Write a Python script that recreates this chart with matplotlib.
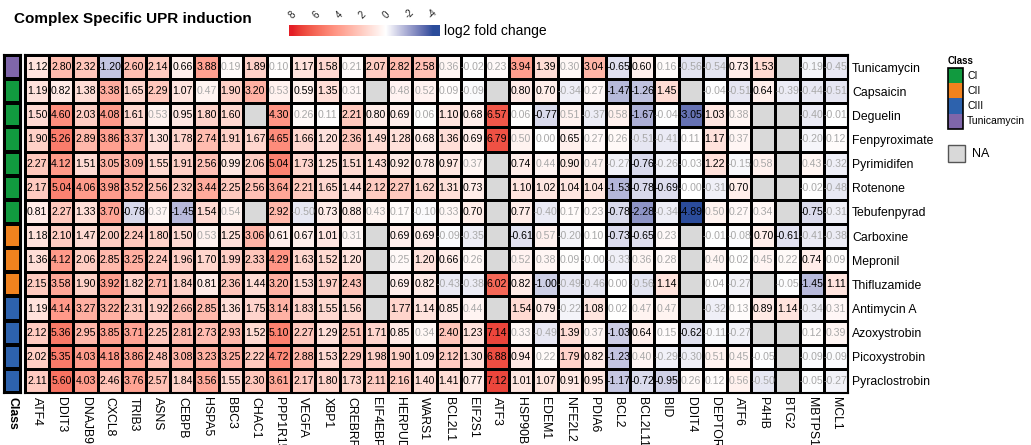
import numpy as np
import matplotlib
matplotlib.use('Agg')
import matplotlib.pyplot as plt
from matplotlib.colors import ListedColormap, Normalize
from matplotlib.patches import Rectangle

plt.rcParams['font.family'] = ['Liberation Sans', 'DejaVu Sans']

NA = np.nan

genes = ['ATF4', 'DDIT3', 'DNAJB9', 'CXCL8', 'TRIB3', 'ASNS', 'CEBPB', 'HSPA5',
         'BBC3', 'CHAC1', 'PPP1R15A', 'VEGFA', 'XBP1', 'CREBRF', 'EIF4EBP1',
         'HERPUD1', 'WARS1', 'BCL2L1', 'EIF2S1', 'ATF3', 'HSP90B1', 'EDEM1',
         'NFE2L2', 'PDIA6', 'BCL2', 'BCL2L11', 'BID', 'DDIT4', 'DEPTOR', 'ATF6',
         'P4HB', 'BTG2', 'MBTPS1', 'MCL1']

compounds = ['Tunicamycin', 'Capsaicin', 'Deguelin', 'Fenpyroximate', 'Pyrimidifen',
             'Rotenone', 'Tebufenpyrad', 'Carboxine', 'Mepronil', 'Thifluzamide',
             'Antimycin A', 'Azoxystrobin', 'Picoxystrobin', 'Pyraclostrobin']

compound_class = ['Tunicamycin', 'CI', 'CI', 'CI', 'CI', 'CI', 'CI',
                  'CII', 'CII', 'CII', 'CIII', 'CIII', 'CIII', 'CIII']

class_names = ['CI', 'CII', 'CIII', 'Tunicamycin']
class_colors = ['#119A3F', '#F0821E', '#2D62AD', '#7F66AA']

tunicamycin = [1.12, 2.80, 2.32, -1.20, 2.60, 2.14, 0.66, 3.88, 0.19, 1.89, 0.10, 1.17, 1.58, 0.21, 2.07, 2.82, 2.58, 0.36, -0.02, 0.23, 3.94, 1.39, 0.30, 3.04, -0.65, 0.60, 0.16, -0.56, -0.54, 0.73, 1.53, NA, -0.19, -0.45]
capsaicin = [1.19, 0.82, 1.38, 3.38, 1.65, 2.29, 1.07, 0.47, 1.90, 3.20, 0.53, 0.59, 1.35, 0.31, NA, 0.48, 0.52, 0.09, -0.09, NA, 0.80, 0.70, -0.34, 0.27, -1.47, -1.26, 1.45, NA, -0.04, -0.51, 0.64, -0.39, -0.44, -0.51]
deguelin = [1.50, 4.60, 2.03, 4.08, 1.61, 0.53, 0.95, 1.80, 1.60, NA, 4.30, 0.26, 0.11, 2.21, 0.80, 0.69, 0.06, 1.10, 0.68, 6.57, 0.06, -0.77, 0.51, -0.37, 0.58, -1.67, -0.04, -3.05, 1.03, 0.38, NA, NA, -0.40, -0.01]
fenpyroximate = [1.90, 5.26, 2.89, 3.86, 3.37, 1.30, 1.78, 2.74, 1.91, 1.67, 4.65, 1.66, 1.20, 2.36, 1.49, 1.28, 0.68, 1.36, 0.69, 6.79, 0.50, 0.00, 0.65, 0.27, 0.26, -0.51, -0.41, 0.11, 1.17, 0.37, NA, NA, -0.20, 0.12]
pyrimidifen = [2.27, 4.12, 1.51, 3.05, 3.09, 1.55, 1.91, 2.56, 0.99, 2.06, 5.04, 1.73, 1.25, 1.51, 1.43, 0.92, 0.78, 0.97, 0.37, NA, 0.74, 0.44, 0.90, 0.47, -0.27, -0.76, -0.26, -0.03, 1.22, -0.15, 0.58, NA, 0.43, -0.32]
rotenone = [2.17, 5.04, 4.06, 3.98, 3.52, 2.56, 2.32, 3.44, 2.25, 2.56, 3.64, 2.21, 1.65, 1.44, 2.12, 2.27, 1.62, 1.31, 0.73, NA, 1.10, 1.02, 1.04, 1.04, -1.53, -0.78, -0.69, -0.00, -0.31, 0.70, NA, NA, -0.02, -0.48]
tebufenpyrad = [0.81, 2.27, 1.33, 3.70, -0.78, 0.37, -1.45, 1.54, 0.54, NA, 2.92, -0.50, 0.73, 0.88, 0.43, 0.17, -0.10, 0.33, 0.70, NA, 0.77, -0.40, 0.17, 0.23, -0.78, -2.28, -0.34, -4.89, 0.50, 0.27, 0.34, NA, -0.75, -0.31]
carboxine = [1.18, 2.10, 1.47, 2.00, 2.24, 1.80, 1.50, 0.53, 1.25, 3.06, 0.61, 0.67, 1.01, 0.31, NA, 0.69, 0.69, -0.09, -0.35, NA, -0.61, 0.57, -0.20, 0.10, -0.73, -0.65, 0.23, NA, -0.01, -0.08, 0.70, -0.61, -0.41, -0.38]
mepronil = [1.36, 4.12, 2.06, 2.85, 3.25, 2.24, 1.96, 1.70, 1.99, 2.33, 4.29, 1.63, 1.52, 1.20, NA, 0.25, 1.20, 0.66, 0.26, NA, 0.52, 0.38, 0.09, -0.00, -0.33, 0.36, 0.28, NA, 0.40, 0.02, 0.45, 0.22, 0.74, 0.09]
thifluzamide = [2.15, 3.58, 1.90, 3.92, 1.82, 2.71, 1.84, 0.81, 2.36, 1.44, 3.20, 1.53, 1.97, 2.43, NA, 0.69, 0.82, -0.43, -0.38, 6.02, 0.82, -1.00, -0.49, -0.46, 0.00, -0.56, 1.14, NA, 0.04, -0.27, NA, -0.05, -1.45, 1.11]
antimycin_a = [1.19, 4.14, 3.27, 3.22, 2.31, 1.92, 2.66, 2.85, 1.36, 1.75, 3.14, 1.83, 1.55, 1.56, NA, 1.77, 1.14, 0.85, 0.44, NA, 1.54, 0.79, -0.22, 1.08, 0.02, 0.47, 0.47, NA, -0.32, 0.13, 0.89, 1.14, -0.34, 0.31]
azoxystrobin = [2.12, 5.36, 2.95, 3.85, 3.71, 2.25, 2.81, 2.73, 2.93, 1.52, 5.10, 2.27, 1.29, 2.51, 1.71, 0.85, 0.34, 2.40, 1.23, 7.14, 0.33, -0.49, 1.39, 0.37, -1.03, 0.64, 0.15, -0.62, -0.11, -0.27, NA, NA, 0.12, 0.39]
picoxystrobin = [2.02, 5.35, 4.03, 4.18, 3.86, 2.48, 3.08, 3.23, 3.25, 2.22, 4.72, 2.88, 1.53, 2.29, 1.98, 1.90, 1.09, 2.12, 1.30, 6.88, 0.94, 0.22, 1.79, 0.82, -1.23, 0.40, -0.29, -0.30, 0.51, 0.45, -0.05, NA, -0.09, -0.09]
pyraclostrobin = [2.11, 5.60, 4.03, 2.46, 3.76, 2.57, 1.84, 3.56, 1.55, 2.30, 3.61, 2.17, 1.80, 1.73, 2.11, 2.16, 1.40, 1.41, 0.77, 7.12, 1.01, 1.07, 0.91, 0.95, -1.17, -0.72, -0.95, 0.26, 0.12, 0.56, -0.50, NA, -0.05, -0.27]

M = np.array([tunicamycin, capsaicin, deguelin, fenpyroximate, pyrimidifen, rotenone,
              tebufenpyrad, carboxine, mepronil, thifluzamide, antimycin_a,
              azoxystrobin, picoxystrobin, pyraclostrobin], dtype=float)

# ---- LAB-interpolated diverging colour ramp (blue at -4, white at 0, red at 8)
_MAT = np.array([[0.4124564, 0.3575761, 0.1804375],
                 [0.2126729, 0.7151522, 0.0721750],
                 [0.0193339, 0.1191920, 0.9503041]])
_WP = np.array([0.95047, 1.0, 1.08883])


def srgb_to_lab(rgb):
    rgb = np.asarray(rgb, float)
    lin = np.where(rgb <= 0.04045, rgb / 12.92, ((rgb + 0.055) / 1.055) ** 2.4)
    t = (lin @ _MAT.T) / _WP
    f = np.where(t > (6 / 29) ** 3, np.cbrt(t), t / (3 * (6 / 29) ** 2) + 4 / 29)
    return np.stack([116 * f[..., 1] - 16, 500 * (f[..., 0] - f[..., 1]),
                     200 * (f[..., 1] - f[..., 2])], -1)


def lab_to_srgb(lab):
    fy = (lab[..., 0] + 16) / 116
    fx = fy + lab[..., 1] / 500
    fz = fy - lab[..., 2] / 200
    f = np.stack([fx, fy, fz], -1)
    t = np.where(f > 6 / 29, f ** 3, 3 * (6 / 29) ** 2 * (f - 4 / 29))
    lin = np.clip((t * _WP) @ np.linalg.inv(_MAT).T, 0, 1)
    rgb = np.where(lin <= 0.0031308, 12.92 * lin, 1.055 * lin ** (1 / 2.4) - 0.055)
    return np.clip(rgb, 0, 1)


VMIN, VMAX = -4.0, 8.0
red = np.array([228, 30, 38]) / 255
blue = np.array([43, 76, 155]) / 255
white = np.array([1.0, 1.0, 1.0])
lr, lb, lw_ = srgb_to_lab(red), srgb_to_lab(blue), srgb_to_lab(white)
vals = np.linspace(VMIN, VMAX, 1201)
labs = []
for v in vals:
    if v < 0:
        t = -v / -VMIN
        labs.append(lw_ + (lb - lw_) * t)
    else:
        t = v / VMAX
        labs.append(lw_ + (lr - lw_) * t)
cmap = ListedColormap(lab_to_srgb(np.array(labs)))
cmap.set_bad('#D9D9D9')
norm = Normalize(VMIN, VMAX)

# ---- figure
W, H = 1031, 445
fig = plt.figure(figsize=(W / 100, H / 100), dpi=100)


def px_axes(x0, y0, x1, y1):
    return fig.add_axes([x0 / W, 1 - y1 / H, (x1 - x0) / W, (y1 - y0) / H])


nr, nc = M.shape
ax = px_axes(25, 55, 848, 393)
ax.set_facecolor('#D9D9D9')
ax.pcolormesh(np.ma.masked_invalid(M), cmap=cmap, norm=norm,
              edgecolors='black', linewidth=1.0)
ax.set_xlim(0, nc)
ax.set_ylim(nr, 0)
thr = np.log2(1.5)
for i in range(nr):
    for j in range(nc):
        v = M[i, j]
        if np.isnan(v):
            continue
        txt = f'{v:.2f}'
        if txt == '0.00' and np.signbit(v):
            txt = '-0.00'
        col = 'black' if abs(v) >= thr else '#A8A8A8'
        ax.text(j + 0.5, i + 0.5, txt, ha='center', va='center',
                fontsize=7.6, color=col)
ax.set_xticks(np.arange(nc) + 0.5)
ax.set_xticklabels(genes, rotation=-90, fontsize=8.8, va='top', ha='center')
ax.set_yticks(np.arange(nr) + 0.5)
ax.set_yticklabels(compounds, fontsize=8.8)
ax.yaxis.tick_right()
ax.tick_params(length=0, pad=3)
for s in ax.spines.values():
    s.set_linewidth(1.5)

# ---- class annotation column
cax_cls = px_axes(4, 55, 21, 393)
cls_idx = np.array([[class_names.index(c)] for c in compound_class])
cax_cls.pcolormesh(cls_idx, cmap=ListedColormap(class_colors), vmin=-0.5,
                   vmax=len(class_names) - 0.5, edgecolors='black', linewidth=1.5)
cax_cls.set_xlim(0, 1)
cax_cls.set_ylim(nr, 0)
cax_cls.set_yticks([])
cax_cls.set_xticks([0.5])
cax_cls.set_xticklabels(['Class'], rotation=-90, fontsize=8.8, fontweight='bold',
                        va='top')
cax_cls.tick_params(length=0, pad=3)
for s in cax_cls.spines.values():
    s.set_linewidth(1.5)

# ---- title
fig.text(14 / W, 1 - 19 / H, 'Complex Specific UPR induction', fontsize=11,
         fontweight='bold', va='center', ha='left')

# ---- colour bar
cb_ax = px_axes(289, 25, 440, 36)
sm = plt.cm.ScalarMappable(cmap=cmap, norm=norm)
cb = fig.colorbar(sm, cax=cb_ax, orientation='horizontal',
                  boundaries=np.linspace(-4.6, 8.3, 300))
cb.outline.set_visible(False)
cb_ax.invert_xaxis()
cb_ax.xaxis.set_ticks_position('top')
cb.set_ticks([8, 6, 4, 2, 0, -2, -4])
cb.set_ticklabels(['8', '6', '4', '2', '0', '-2', '-4'])
cb_ax.tick_params(length=0, pad=3, labelsize=7, labelcolor='#222222')
for lab in cb_ax.get_xticklabels():
    lab.set_rotation(45)
    lab.set_ha('center')
fig.text(444 / W, 1 - 31 / H, 'log2 fold change', fontsize=10, va='center',
         ha='left')

# ---- legend
lax = px_axes(940, 50, 1031, 170)
lax.set_xlim(940, 1031)
lax.set_ylim(170, 50)
lax.axis('off')
lax.text(948, 61, 'Class', fontsize=7, fontweight='bold', va='center', ha='left')
y0, bh = 68, 15.2
for k, (nm, colr) in enumerate(zip(class_names, class_colors)):
    lax.add_patch(Rectangle((948, y0 + k * bh), 15, bh, facecolor=colr,
                            edgecolor='none'))
    lax.text(967, y0 + k * bh + bh / 2, nm, fontsize=7.5, va='center', ha='left')
lax.add_patch(Rectangle((948, y0), 15, bh * len(class_names), facecolor='none',
                        edgecolor='black', linewidth=1.2))
lax.add_patch(Rectangle((948, 145), 17, 17, facecolor='#D9D9D9',
                        edgecolor='#555555', linewidth=1))
lax.text(972, 154, 'NA', fontsize=9, va='center', ha='left')

fig.savefig('out.png', dpi=100)
